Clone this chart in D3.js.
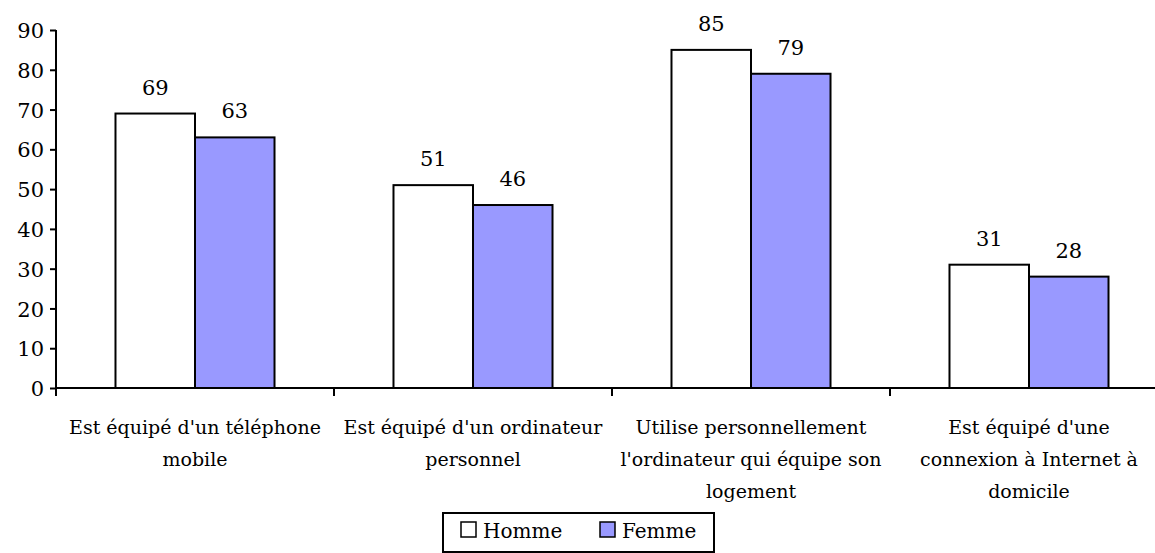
<!DOCTYPE html>
<html>
<head>
<meta charset="utf-8">
<script src="https://cdn.jsdelivr.net/npm/d3@7"></script>
<style>
  body { margin: 0; background: #fff; }
</style>
</head>
<body>
<div id="chart"></div>
<script>
const categories = [
    ["Est équipé d'un téléphone", "mobile"],
    ["Est équipé d'un ordinateur", "personnel"],
    ["Utilise personnellement", "l'ordinateur qui équipe son", "logement"],
    ["Est équipé d'une", "connexion à Internet à", "domicile"]
];
const homme = [69, 51, 85, 31];
const femme = [63, 46, 79, 28];
const seriesNames = ["Homme", "Femme"];
const seriesColors = ["#ffffff", "#9999ff"];
const yTicks = [0, 10, 20, 30, 40, 50, 60, 70, 80, 90];

const width = 1155, height = 553;
const margin = {top: 30, left: 56, bottom: 165};
const plotBottom = height - margin.bottom; // 388
const band = 278;
const serif = "'DejaVu Serif', serif";

const svg = d3.select("#chart").append("svg")
    .attr("width", width)
    .attr("height", height)
    .attr("font-family", serif);

const x = d3.scaleBand()
    .domain(d3.range(categories.length))
    .range([margin.left, margin.left + band * categories.length])
    .paddingInner(0).paddingOuter(0);

const y = d3.scaleLinear()
    .domain([0, 90])
    .range([plotBottom, margin.top]);

const barW = band * 0.286;

// bars
const series = [homme, femme];
series.forEach((vals, s) => {
    svg.append("g").selectAll("rect")
        .data(vals)
        .join("rect")
        .attr("x", (d, i) => x(i) + band / 2 - barW + s * barW)
        .attr("y", d => y(d))
        .attr("width", barW)
        .attr("height", d => y(0) - y(d))
        .attr("fill", seriesColors[s])
        .attr("stroke", "#000")
        .attr("stroke-width", 2);

    svg.append("g").selectAll("text")
        .data(vals)
        .join("text")
        .attr("x", (d, i) => x(i) + band / 2 - barW / 2 + s * barW)
        .attr("y", d => y(d) - 19)
        .attr("text-anchor", "middle")
        .attr("font-size", 21)
        .text(d => d);
});

// y axis
const yAxis = svg.append("g")
    .attr("transform", `translate(${margin.left},0)`)
    .call(d3.axisLeft(y).tickValues(yTicks).tickSize(6).tickPadding(6));
yAxis.attr("font-family", serif).attr("font-size", 21);
yAxis.select(".domain").attr("stroke-width", 2).attr("d", `M0,${y(90)}V${y(0) + 8}`);
yAxis.selectAll(".tick line").attr("stroke-width", 2);
yAxis.selectAll(".tick text").attr("dy", "0.36em");

// x axis
const xg = svg.append("g");
xg.append("line")
    .attr("x1", margin.left).attr("x2", width)
    .attr("y1", y(0)).attr("y2", y(0))
    .attr("stroke", "#000").attr("stroke-width", 2);
xg.selectAll("line.tk")
    .data(d3.range(categories.length))
    .join("line")
    .attr("class", "tk")
    .attr("x1", i => x(i)).attr("x2", i => x(i))
    .attr("y1", y(0)).attr("y2", y(0) + 8)
    .attr("stroke", "#000").attr("stroke-width", 2);

xg.selectAll("text.cat")
    .data(categories)
    .join("text")
    .attr("class", "cat")
    .attr("text-anchor", "middle")
    .attr("x", (d, i) => x(i) + band / 2)
    .attr("y", 434)
    .attr("font-size", 19)
    .each(function(lines) {
        d3.select(this).selectAll("tspan")
            .data(lines)
            .join("tspan")
            .attr("x", d3.select(this).attr("x"))
            .attr("dy", (l, j) => j === 0 ? 0 : 32)
            .text(l => l);
    });

// legend
const lg = svg.append("g");
lg.append("rect")
    .attr("x", 443).attr("y", 513)
    .attr("width", 271).attr("height", 39)
    .attr("fill", "#fff").attr("stroke", "#000").attr("stroke-width", 2);
const items = lg.selectAll("g.item")
    .data(seriesNames)
    .join("g")
    .attr("class", "item")
    .attr("transform", (d, i) => `translate(${461 + i * 139},522)`);
items.append("rect")
    .attr("width", 15).attr("height", 15)
    .attr("fill", (d, i) => seriesColors[i])
    .attr("stroke", "#000").attr("stroke-width", 1.5);
items.append("text")
    .attr("x", 22).attr("y", 16)
    .attr("font-size", 20)
    .text(d => d);
</script>
</body>
</html>
